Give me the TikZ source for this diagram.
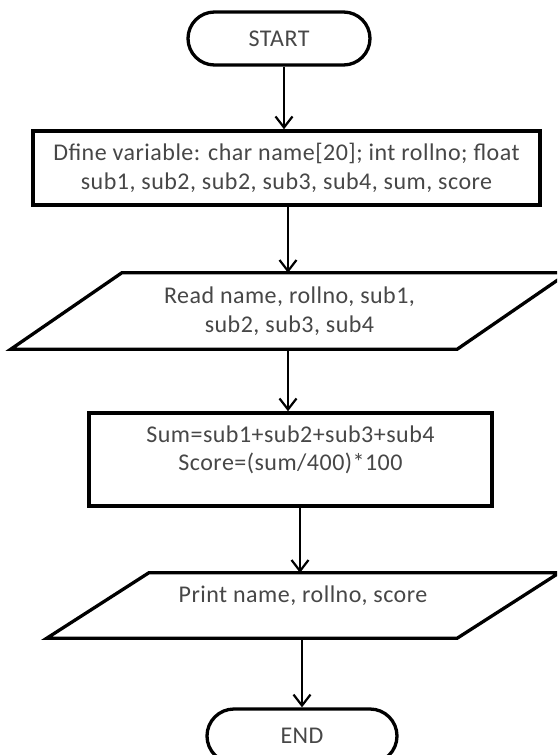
\documentclass[tikz,border=0pt]{standalone}
\usepackage{fontspec}
\setmainfont{Carlito}[LetterSpace=2]
\usetikzlibrary{arrows.meta,calc}
\begin{document}
\begin{tikzpicture}[x=1pt,y=-1pt,
  txt/.style={text=black!72, font=\fontsize{24}{28.5}\selectfont, align=center, inner sep=0pt},
  term/.style={txt, draw=black, line width=3.3pt, rounded corners=26.5pt, minimum width=182pt, minimum height=53pt},
  procbox/.style={txt, draw=black, line width=3.5pt},
  iobox/.style={txt, draw=none},
  iopath/.style={draw=black, line width=3.3pt, line join=miter},
  arr/.style={line width=2.2pt, -{Straight Barb[length=11pt,width=17pt,line width=2.2pt]}}
]
\fill[white] (0,0) rectangle (557,755);
\useasboundingbox (0,0) rectangle (557,755);
\clip (0,0) rectangle (557,755);

% START
\node[term] (start) at (279,38.5) {START};

% Define box
\node[procbox, minimum width=507pt, minimum height=74pt] (define) at (286.5,168)
  {Dfine variable: char name[20]; int rollno; float\\sub1, sub2, sub2, sub3, sub4, sum, score};

% Read parallelogram
\node[iobox, minimum width=446pt, minimum height=76pt] (read) at (289.5,311)
  {Read name, rollno, sub1,\\sub2, sub3, sub4};
\draw[iopath] ($(read.south west)+(-55.5,0)$) -- ($(read.south east)+(-55.5,0)$)
  -- ($(read.north east)+(55.5,0)$) -- ($(read.north west)+(55.5,0)$) -- cycle;

% Compute box
\node[procbox, minimum width=403pt, minimum height=93pt] (compute) at (290.5,459.5) {};
\node[txt] (computetxt) at (290.5,450) {Sum=sub1+sub2+sub3+sub4\\Score=(sum/400)*100};

% Print parallelogram
\node[iobox, minimum width=410pt, minimum height=65pt] (print) at (303,605.5) {};
\draw[iopath] ($(print.south west)+(-51,0)$) -- ($(print.south east)+(-51,0)$)
  -- ($(print.north east)+(51,0)$) -- ($(print.north west)+(51,0)$) -- cycle;
\node[txt] (printtxt) at (303,596) {Print name, rollno, score};

% END
\node[term, minimum width=190pt, minimum height=54pt, rounded corners=27pt] (end) at (302,736) {END};

% connectors
\draw[arr] ([xshift=5pt]start.south) -- ([xshift=5pt]start.south |- define.north);
\draw[arr] ([xshift=1.5pt]define.south) -- ([xshift=1.5pt]define.south |- read.north);
\draw[arr] ([xshift=-1.5pt]read.south) -- ([xshift=-1.5pt]read.south |- compute.north);
\draw[arr] ([xshift=9.5pt]compute.south) -- ([xshift=9.5pt]compute.south |- print.north);
\draw[arr] ([xshift=-1pt]print.south) -- ([xshift=-1pt]print.south |- end.north);
\end{tikzpicture}
\end{document}
